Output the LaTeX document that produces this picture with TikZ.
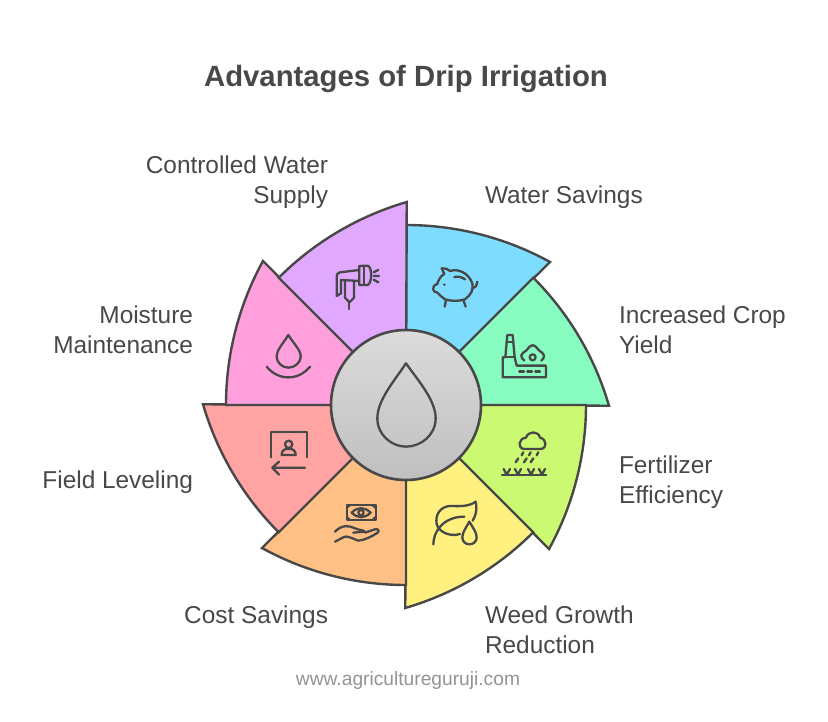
\documentclass[tikz,border=0pt]{standalone}
\usepackage{fontspec}
\setmainfont{Liberation Sans}
\definecolor{ink}{HTML}{484848}
\definecolor{txt}{HTML}{484848}
\definecolor{cCyan}{HTML}{7EDDFF}
\definecolor{cMint}{HTML}{88FBC0}
\definecolor{cLime}{HTML}{CBF971}
\definecolor{cYellow}{HTML}{FFF080}
\definecolor{cOrange}{HTML}{FFC085}
\definecolor{cSalmon}{HTML}{FFA3A3}
\definecolor{cPink}{HTML}{FFA0DC}
\definecolor{cPurple}{HTML}{E0A8FF}
\tikzset{
  wedge/.style={draw=ink,line width=2.4pt,line join=miter,fill=#1},
  icon/.style={draw=ink,line width=2.3pt,line cap=round,line join=round},
  lbl/.style={font=\fontsize{24.4}{30}\selectfont,text=txt,inner sep=0pt,outer sep=0pt},
  lblL/.style={lbl,anchor=west,align=left},
  lblR/.style={lbl,anchor=east,align=right},
  zoomA/.style={shift={(#1)},x=0.3333pt,y=-0.3333pt}
}
\newcommand{\petal}[2]{%
  \begin{scope}[shift={(406pt,-405pt)},rotate=#1,x=1pt,y=1pt]
    \path[wedge=#2] (0,0) -- (0,180) arc[start angle=90,end angle=61.2,radius=299] -- cycle;
  \end{scope}}
\begin{document}
\begin{tikzpicture}[x=1pt,y=1pt]
\useasboundingbox (0,0) rectangle (828,-722);
\fill[white] (0,0) rectangle (828,-722);
\petal{0}{cCyan}
\petal{-45}{cMint}
\petal{-90}{cLime}
\petal{-135}{cYellow}
\petal{-180}{cOrange}
\petal{-225}{cSalmon}
\petal{-270}{cPink}
\petal{-315}{cPurple}
\node[circle,draw=ink,line width=2.6pt,minimum size=150pt,inner sep=0pt,top color=black!14,bottom color=black!25] (hub) at (406,-405) {};

% centre drop
\begin{scope}[zoomA={325pt,-325pt}]
\draw[icon] (243,115) .. controls (210,165) and (157,225) .. (157,280) .. controls (157,330) and (200,365) .. (243,365) .. controls (288,365) and (332,330) .. (332,280) .. controls (332,225) and (278,165) .. (243,115) -- cycle;
\end{scope}

% pig and factory
\begin{scope}[zoomA={400pt,-200pt}]
\draw[icon] (150,213) .. controls (175,205) and (205,218) .. (217,250) .. controls (222,270) and (212,285) .. (195,298) .. controls (175,305) and (150,303) .. (135,298) .. controls (125,290) and (118,285) .. (112,278) .. controls (98,278) and (92,258) .. (112,252) .. controls (115,240) and (122,228) .. (133,222) -- (125,205) .. controls (135,203) and (145,208) .. (150,213);
\draw[icon] (138,300) -- (134,320) (190,300) -- (197,320);
\draw[icon] (217,265) .. controls (225,265) and (230,258) .. (232,245);
\draw[icon] (163,231) .. controls (175,228) and (187,232) .. (195,238);
\fill[ink] (133,254) circle[radius=4];
% factory
\draw[icon] (322,405) -- (338,405) -- (344,472) -- (350,497) -- (438,497) -- (438,532) -- (308,532) -- (308,472) -- (316,472) -- cycle;
\draw[icon] (316,472) -- (344,472) (320,425) -- (340,425);
\draw[icon] (358,515) -- (372,515) (382,515) -- (396,515) (406,515) -- (420,515);
\draw[icon] (373,482) .. controls (368,476) and (362,474) .. (364,466) .. controls (366,458) and (372,458) .. (378,452) .. controls (384,448) and (388,436) .. (398,436) .. controls (408,436) and (412,448) .. (418,452) .. controls (424,458) and (430,458) .. (432,466) .. controls (434,474) and (428,476) .. (424,482);
\draw[icon] (398,472) circle[radius=9];
\end{scope}

% rain and leaf
\begin{scope}[zoomA={400pt,-400pt}]
\draw[icon] (372,147) -- (425,147) .. controls (440,145) and (442,118) .. (420,113) .. controls (415,92) and (385,92) .. (378,113) .. controls (355,115) and (352,145) .. (372,147) -- cycle;
\draw[icon] (370,157) -- (365,166) (392,157) -- (387,166) (415,157) -- (410,166);
\draw[icon] (355,175) -- (347,187) (380,175) -- (372,187) (400,175) -- (392,187);
\draw[icon] (306,226) -- (439,226);
\draw[icon] (311,207) -- (320,224) -- (330,207) (345,207) -- (354,224) -- (363,207) (384,207) -- (393,224) -- (402,207) (417,207) -- (426,224) -- (435,207);
% leaf
\draw[icon] (227,305) .. controls (205,322) and (170,318) .. (150,318) .. controls (120,320) and (105,345) .. (110,372) .. controls (115,395) and (150,412) .. (180,402);
\draw[icon] (227,305) .. controls (232,330) and (228,345) .. (218,362);
\draw[icon] (100,433) .. controls (100,395) and (130,350) .. (193,350);
\draw[icon] (208,365) .. controls (197,385) and (187,398) .. (187,412) .. controls (187,425) and (197,433) .. (208,433) .. controls (220,433) and (230,425) .. (230,412) .. controls (230,398) and (220,385) .. (208,365) -- cycle;
\end{scope}

% money and person
\begin{scope}[zoomA={195pt,-400pt}]
\draw[icon] (455,315) rectangle (542,360);
\fill[ink] (455,315) -- (470,315) -- (455,328) -- cycle (542,315) -- (527,315) -- (542,328) -- cycle (455,360) -- (470,360) -- (455,347) -- cycle (542,360) -- (527,360) -- (542,347) -- cycle;
\draw[icon] (470,338) .. controls (488,320) and (508,320) .. (527,338) .. controls (508,356) and (488,356) .. (470,338) -- cycle;
\draw[icon] (498,338) circle[radius=8];
\draw[icon] (420,395) .. controls (440,375) and (460,375) .. (480,385) .. controls (490,390) and (505,390) .. (510,395) -- (475,398) (510,398) -- (540,388) .. controls (548,386) and (555,392) .. (548,398) .. controls (530,410) and (510,420) .. (490,422) .. controls (470,415) and (455,405) .. (445,412) -- (420,425);
% person
\draw[icon] (227,172) -- (227,97) -- (335,97) -- (335,172);
\draw[icon] (281,133) circle[radius=11];
\draw[icon] (260,165) .. controls (260,150) and (270,146) .. (281,147) .. controls (292,146) and (302,150) .. (302,165) -- cycle;
\draw[icon] (330,203) -- (232,203) (252,185) -- (232,203) -- (252,224);
\end{scope}

% moisture and hose
\begin{scope}[zoomA={215pt,-195pt}]
\draw[icon] (220,420) .. controls (205,445) and (185,465) .. (185,483) .. controls (185,505) and (203,518) .. (220,518) .. controls (238,518) and (257,505) .. (257,483) .. controls (257,465) and (235,445) .. (220,420) -- cycle;
\draw[icon] (155,515) .. controls (190,558) and (250,558) .. (285,515);
\draw[icon] (433,225) -- (375,232) .. controls (368,233) and (365,238) .. (365,245) -- (365,303) -- (378,295) -- (378,255) -- (433,258);
\draw[icon] (433,213) -- (458,212) .. controls (472,215) and (472,265) .. (458,270) -- (433,270) -- cycle;
\draw[icon] (448,213) -- (448,270);
\draw[icon] (390,258) -- (390,308) -- (403,322) -- (417,308) -- (417,258);
\draw[icon] (403,322) -- (403,342);
\draw[icon] (476,232) -- (490,225) (476,243) -- (492,243) (476,254) -- (490,262);
\end{scope}

\node[font=\bfseries\fontsize{29.3}{36}\selectfont,text=txt,inner sep=0pt] (title) at (406,-79) {Advantages of Drip Irrigation};
\node[lblL] (l1) at (485,-197) {Water Savings};
\node[lblL] (l2) at (619,-330) {Increased Crop\\Yield};
\node[lblL] (l3) at (619,-482) {Fertilizer\\Efficiency};
\node[lblL] (l4) at (485,-630) {Weed Growth\\Reduction};
\node[lblR] (l5) at (328,-617) {Cost Savings};
\node[lblR] (l6) at (193,-482) {Field Leveling};
\node[lblR] (l7) at (193,-330) {Moisture\\Maintenance};
\node[lblR] (l8) at (328,-182) {Controlled Water\\Supply};
\node[font=\fontsize{19.2}{22}\selectfont,text=black!42,inner sep=0pt] (web) at (408,-681) {www.agricultureguruji.com};
\end{tikzpicture}
\end{document}
